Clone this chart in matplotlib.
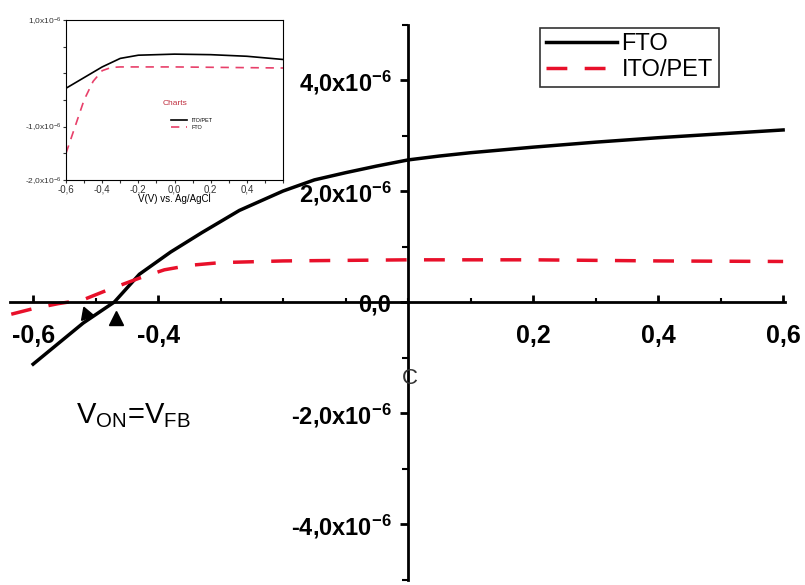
import numpy as np
import matplotlib.pyplot as plt
from matplotlib.ticker import MultipleLocator

plt.rcParams['font.family'] = ['Liberation Sans', 'DejaVu Sans']
plt.rcParams['mathtext.default'] = 'regular'

# main curves (V vs current, A)
fto_v = [-0.60, -0.56, -0.52, -0.47, -0.43, -0.38, -0.33, -0.27, -0.20, -0.15, -0.10, -0.05, 0.00,
         0.05, 0.10, 0.15, 0.20, 0.30, 0.40, 0.50, 0.60]
fto_i = [-1.12e-6, -0.75e-6, -0.38e-6, 0.0, 0.50e-6, 0.90e-6, 1.25e-6, 1.65e-6, 2.00e-6, 2.20e-6,
         2.33e-6, 2.45e-6, 2.56e-6, 2.63e-6, 2.69e-6, 2.74e-6, 2.79e-6, 2.88e-6, 2.96e-6, 3.03e-6, 3.10e-6]
ito_v = [-0.635, -0.60, -0.56, -0.52, -0.48, -0.43, -0.39, -0.35, -0.30, -0.20, 0.0, 0.2, 0.4, 0.6]
ito_i = [-0.22e-6, -0.12e-6, -0.03e-6, 0.04e-6, 0.22e-6, 0.43e-6, 0.58e-6, 0.66e-6, 0.71e-6,
         0.74e-6, 0.76e-6, 0.76e-6, 0.74e-6, 0.73e-6]

# inset curves
in_blk_v = [-0.6, -0.5, -0.4, -0.3, -0.2, 0.0, 0.2, 0.4, 0.6]
in_blk_i = [-0.28e-6, -0.08e-6, 0.12e-6, 0.28e-6, 0.34e-6, 0.36e-6, 0.35e-6, 0.32e-6, 0.26e-6]
in_red_v = [-0.6, -0.55, -0.5, -0.45, -0.4, -0.35, -0.3, 0.0, 0.3, 0.6]
in_red_i = [-1.5e-6, -1.0e-6, -0.5e-6, -0.15e-6, 0.05e-6, 0.11e-6, 0.12e-6, 0.12e-6, 0.11e-6, 0.10e-6]

y_ticks = [-4e-6, -2e-6, 0.0, 2e-6, 4e-6]
y_labels = ['-4,0x10$^{-6}$', '-2,0x10$^{-6}$', '0,0', '2,0x10$^{-6}$', '4,0x10$^{-6}$']
x_ticks = [-0.6, -0.4, 0.2, 0.4, 0.6]
x_labels = ['-0,6', '-0,4', '0,2', '0,4', '0,6']

fig = plt.figure(figsize=(8.05, 5.85), dpi=100)
ax = fig.add_axes([10/805, 5.5/585, 775/805, 555/585])
ax.plot(fto_v, fto_i, color='black', lw=2.5, label='FTO')
ax.plot(ito_v, ito_i, color='#e8102a', lw=2.5, dashes=(6, 5), label='ITO/PET')
ax.set_xlim(-0.637, 0.603)
ax.set_ylim(-5e-6, 5e-6)
ax.spines['left'].set_position(('data', 0))
ax.spines['bottom'].set_position(('data', 0))
ax.spines['top'].set_visible(False)
ax.spines['right'].set_visible(False)
ax.spines['left'].set_linewidth(2)
ax.spines['bottom'].set_linewidth(2)
ax.set_yticks(y_ticks)
ax.set_yticklabels(y_labels, fontsize=17, fontweight='bold')
ax.set_xticks(x_ticks)
ax.set_xticklabels(x_labels, fontsize=18, fontweight='bold')
ax.yaxis.set_minor_locator(MultipleLocator(1e-6))
ax.xaxis.set_minor_locator(MultipleLocator(0.1))
ax.tick_params(axis='y', which='major', direction='out', length=6, width=2, pad=6)
ax.tick_params(axis='y', which='minor', direction='out', length=4, width=1.5)
ax.tick_params(axis='x', which='major', direction='in', length=5, width=2, pad=16)
ax.tick_params(axis='x', which='minor', direction='in', length=3, width=1.5)
ax.patch.set_alpha(0)

# markers for onset
ax.plot([-0.515], [-0.22e-6], marker=(3, 0, 20), color='black', ms=11)
ax.plot([-0.468], [-0.28e-6], marker='^', color='black', ms=10)
ax.text(-0.44, -2.05e-6, 'V$_{ON}$=V$_{FB}$', fontsize=21,
        ha='center', va='center')
fig.text(410/805, 1 - 378/585, 'C', fontsize=16, ha='center', va='center', color='#333333')

leg = ax.legend(loc='upper left', bbox_to_anchor=(530/775, 1 - 3/555), fontsize=17,
                frameon=True, fancybox=False, edgecolor='black', handlelength=3,
                borderpad=0.25, labelspacing=0.15, handletextpad=0.2, borderaxespad=0)
leg.get_frame().set_linewidth(1.2)

# inset
ins = fig.add_axes([66/805, 1 - 180/585, 217/805, 160/585])
ins.plot(in_blk_v, in_blk_i, color='black', lw=1.2, label='ITO/PET')
ins.plot(in_red_v, in_red_i, color='#e8406a', lw=1.2, dashes=(5, 4), label='FTO')
ins.set_xlim(-0.6, 0.6)
ins.set_ylim(-2e-6, 1e-6)
ins.set_xticks([-0.6, -0.4, -0.2, 0.0, 0.2, 0.4])
ins.set_xticklabels(['-0,6', '-0,4', '-0,2', '0,0', '0,2', '0,4'], fontsize=7)
ins.set_yticks([-2e-6, -1e-6, 1e-6])
ins.set_yticklabels(['-2,0x10$^{-6}$', '-1,0x10$^{-6}$', '1,0x10$^{-6}$'], fontsize=6)
ins.xaxis.set_minor_locator(MultipleLocator(0.1))
ins.yaxis.set_minor_locator(MultipleLocator(0.5e-6))
ins.tick_params(which='both', direction='out', length=2, width=0.8, pad=1, colors='#333333')
ins.set_xlabel('V(V) vs. Ag/AgCl', fontsize=7, labelpad=0)
ins.text(0.0, -0.6e-6, 'Charts', fontsize=6, color='#c03040', ha='center')
ins.legend(loc='center', bbox_to_anchor=(0.58, 0.35), fontsize=4, frameon=False, handlelength=3)

fig.savefig('out.png', dpi=100)
